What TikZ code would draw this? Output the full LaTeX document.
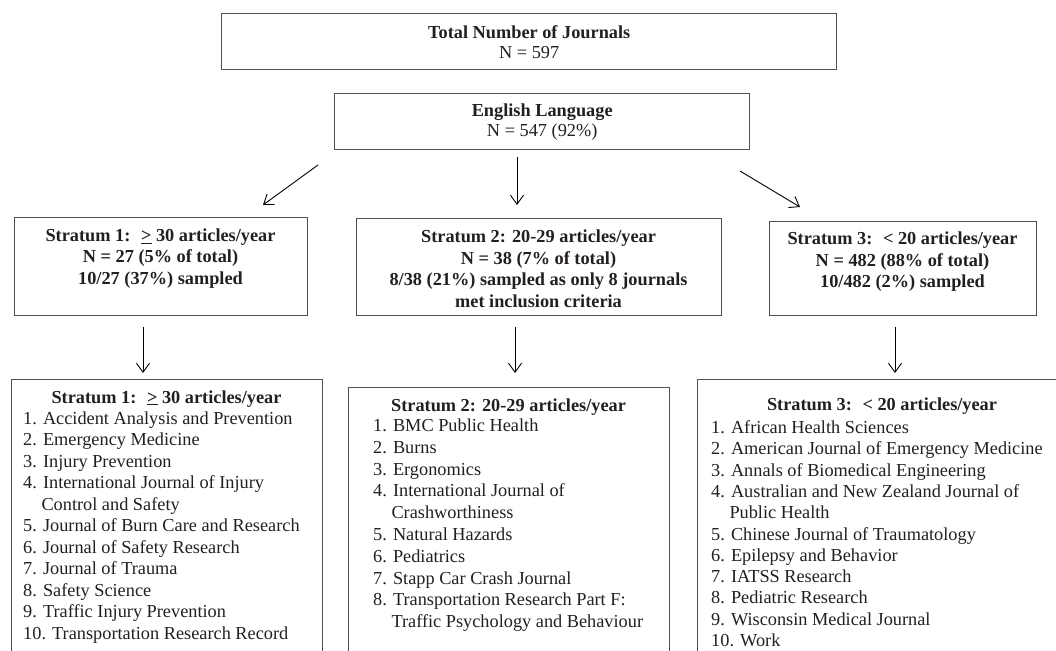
\documentclass[tikz,border=0pt]{standalone}
\usepackage{fontspec}
\setmainfont{Liberation Serif}
\usetikzlibrary{arrows.meta}
\definecolor{txt}{HTML}{231F20}
\definecolor{bord}{HTML}{505050}
\begin{document}
\begin{tikzpicture}[x=1pt,y=-1pt,
  box/.style={draw=bord,line width=1.4pt,inner sep=0pt,anchor=north west},
  toplbl/.style={inner sep=0pt,text=txt,font=\fontsize{18.3}{20}\selectfont,align=center},
  lbl/.style={inner sep=0pt,text=txt,font=\fontsize{18.3}{21.5}\selectfont\bfseries,align=center,anchor=north},
  lst/.style={inner sep=0pt,text=txt,font=\fontsize{18.3}{21.5}\selectfont,align=left,anchor=north west},
  arr/.style={draw=black,line width=0.9pt,-{Straight Barb[length=9pt,width=13pt]}}]

\useasboundingbox (0,0) rectangle (1056,650);
\clip (0,0) rectangle (1056,650);

% top boxes
\node[box,minimum width=615pt,minimum height=56pt] (tot) at (221,13) {};
\node[toplbl] (tott) at (tot.center) {\textbf{Total Number of Journals}\\N = 597};
\node[box,minimum width=415pt,minimum height=56pt] (eng) at (334,93) {};
\node[toplbl] (engt) at (eng.center) {\textbf{English Language}\\N = 547 (92\%)};

% stratum boxes
\node[box,minimum width=293pt,minimum height=98pt] (s1) at (14,217) {};
\node[lbl] (s1t) at (160.5,228.5) {Stratum 1: \ \underline{>} 30 articles/year\\N = 27 (5\% of total)\\10/27 (37\%) sampled};
\node[box,minimum width=365pt,minimum height=97pt] (s2) at (356,218) {};
\node[lbl] (s2t) at (538.5,230) {Stratum 2: 20-29 articles/year\\N = 38 (7\% of total)\\8/38 (21\%) sampled as only 8 journals\\met inclusion criteria};
\node[box,minimum width=267pt,minimum height=94pt] (s3) at (769,221) {};
\node[lbl] (s3t) at (902.5,232) {Stratum 3: \ < 20 articles/year\\N = 482 (88\% of total)\\10/482 (2\%) sampled};

% list boxes
\node[box,minimum width=311pt,minimum height=300pt] (l1) at (11,379) {};
\node[lbl,anchor=base] (l1h) at (166.5,403) {Stratum 1: \ \underline{>} 30 articles/year};
\node[lst] (l1t) at (23,411.5) {1. Accident Analysis and Prevention\\
2. Emergency Medicine\\
3. Injury Prevention\\
4. International Journal of Injury\\
\phantom{4.}\ Control and Safety\\
5. Journal of Burn Care and Research\\
6. Journal of Safety Research\\
7. Journal of Trauma\\
8. Safety Science\\
9. Traffic Injury Prevention\\
10. Transportation Research Record};

\node[box,minimum width=321pt,minimum height=300pt] (l2) at (348,387) {};
\node[lbl,anchor=base] (l2h) at (508.5,411) {Stratum 2: 20-29 articles/year};
\node[lst,font=\fontsize{18.3}{21.8}\selectfont] (l2t) at (373,418.5) {1. BMC Public Health\\
2. Burns\\
3. Ergonomics\\
4. International Journal of\\
\phantom{4.}\ Crashworthiness\\
5. Natural Hazards\\
6. Pediatrics\\
7. Stapp Car Crash Journal\\
8. Transportation Research Part F:\\
\phantom{8.}\ Traffic Psychology and Behaviour};

\node[box,minimum width=370pt,minimum height=300pt] (l3) at (697,379) {};
\node[lbl,anchor=base] (l3h) at (882,410) {Stratum 3: \ < 20 articles/year};
\node[lst,font=\fontsize{18.3}{21.3}\selectfont] (l3t) at (711,420.5) {1. African Health Sciences\\
2. American Journal of Emergency Medicine\\
3. Annals of Biomedical Engineering\\
4. Australian and New Zealand Journal of\\
\phantom{4.}\ Public Health\\
5. Chinese Journal of Traumatology\\
6. Epilepsy and Behavior\\
7. IATSS Research\\
8. Pediatric Research\\
9. Wisconsin Medical Journal\\
10. Work};

% arrows
\coordinate (a1s) at (318,165); \coordinate (a1e) at (263,205);
\coordinate (a2s) at (517,157); \coordinate (a2e) at (517,205);
\coordinate (a3s) at (740,171); \coordinate (a3e) at (800,207);
\coordinate (b1s) at (143,327); \coordinate (b1e) at (143,373);
\coordinate (b2s) at (515,327); \coordinate (b2e) at (515,373);
\coordinate (b3s) at (895,327); \coordinate (b3e) at (895,373);
\draw[arr] (a1s) -- (a1e);
\draw[arr] (a2s) -- (a2e);
\draw[arr] (a3s) -- (a3e);
\draw[arr] (b1s) -- (b1e);
\draw[arr] (b2s) -- (b2e);
\draw[arr] (b3s) -- (b3e);
\end{tikzpicture}
\end{document}
